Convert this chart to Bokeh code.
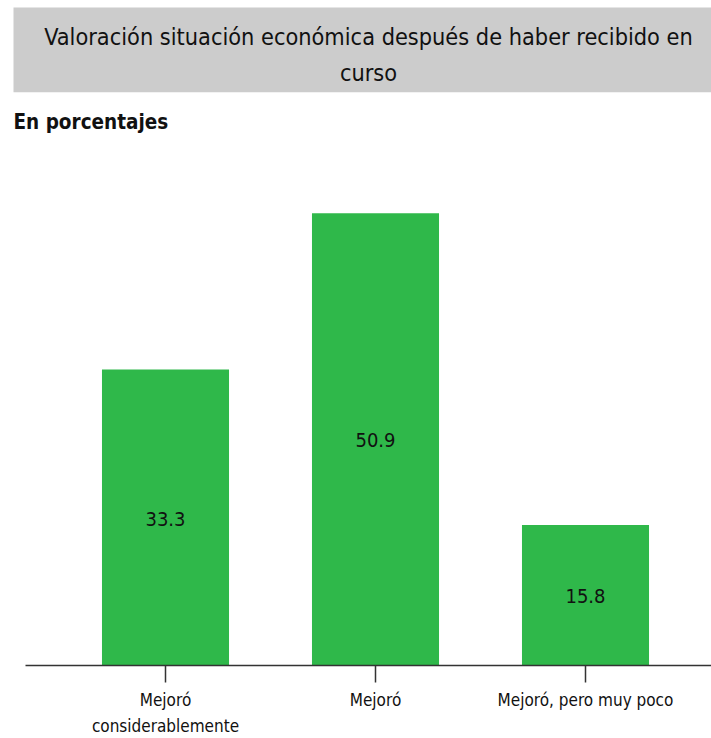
from bokeh.plotting import figure
from bokeh.models import ColumnDataSource, Label, FixedTicker, Range1d, BoxAnnotation
from bokeh.core.properties import value
from bokeh.embed import file_html
from bokeh.resources import INLINE

# ---- data ----
categories = ["Mejoró\nconsiderablemente", "Mejoró", "Mejoró, pero muy poco"]
values = [33.3, 50.9, 15.8]
value_labels = ["33.3", "50.9", "15.8"]
title_text = "Valoración situación económica después de haber recibido en\ncurso"
subtitle_text = "En porcentajes"

FONT = "'DejaVu Sans Condensed', 'Liberation Sans', sans-serif"
GREEN = "#2FB84A"
TEXT = "#111111"

# ---- layout geometry (pixels) ----
W, H = 711, 738
BASE_PX = 666          # baseline pixel row
PX_PER_UNIT = 8.9      # vertical scale
X0_PX = 165            # pixel column of first category
STEP_PX = 210          # pixel spacing of categories


def px_x(px):
    return (px - X0_PX) / STEP_PX


def px_y(py):
    return (BASE_PX - py) / PX_PER_UNIT


idx = list(range(len(categories)))
src = ColumnDataSource(dict(x=idx, top=values, mid=[v / 2 for v in values], lab=value_labels))

p = figure(width=W, height=H, output_backend="svg", toolbar_location=None,
           x_range=Range1d(px_x(0), px_x(W)), y_range=Range1d(0, px_y(0)),
           y_axis_location=None,
           min_border_left=0, min_border_right=0, min_border_top=0,
           min_border_bottom=H - BASE_PX)
p.outline_line_color = None
p.grid.visible = False
p.background_fill_color = "white"
p.border_fill_color = "white"

# title box and texts
p.add_layout(BoxAnnotation(left=px_x(13), right=px_x(W), top=px_y(7), bottom=px_y(92),
                           fill_color="#CCCCCC", fill_alpha=1, line_color=None))
p.add_layout(Label(x=px_x(368), y=px_y(54), text=title_text, text_align="center",
                   text_baseline="middle", text_font=FONT, text_font_size="23.3px",
                   text_color=TEXT, text_line_height=1.36))
p.add_layout(Label(x=px_x(13), y=px_y(122), text=subtitle_text, text_align="left",
                   text_baseline="middle", text_font=FONT, text_font_size="20.5px",
                   text_font_style="bold", text_color=TEXT))

p.vbar(x="x", top="top", width=0.605, source=src, fill_color=GREEN, line_color=None)
p.text(x="x", y="mid", text="lab", source=src, text_align="center", text_baseline="middle",
       text_font=value(FONT), text_font_size="20px", text_color=TEXT, y_offset=1)

ax = p.xaxis[0]
ax.ticker = FixedTicker(ticks=idx)
ax.bounds = (px_x(25), px_x(W))
ax.major_label_overrides = {i: c for i, c in zip(idx, categories)}
ax.axis_line_color = "#333333"
ax.axis_line_width = 1.5
ax.major_tick_line_color = "#333333"
ax.major_tick_line_width = 1.5
ax.major_tick_out = 17
ax.major_tick_in = 0
ax.minor_tick_line_color = None
ax.major_label_standoff = 7
ax.major_label_text_font = FONT
ax.major_label_text_font_size = "17px"
ax.major_label_text_line_height = 1.3
ax.major_label_text_color = TEXT

open("out.html", "w").write(file_html(p, INLINE))
